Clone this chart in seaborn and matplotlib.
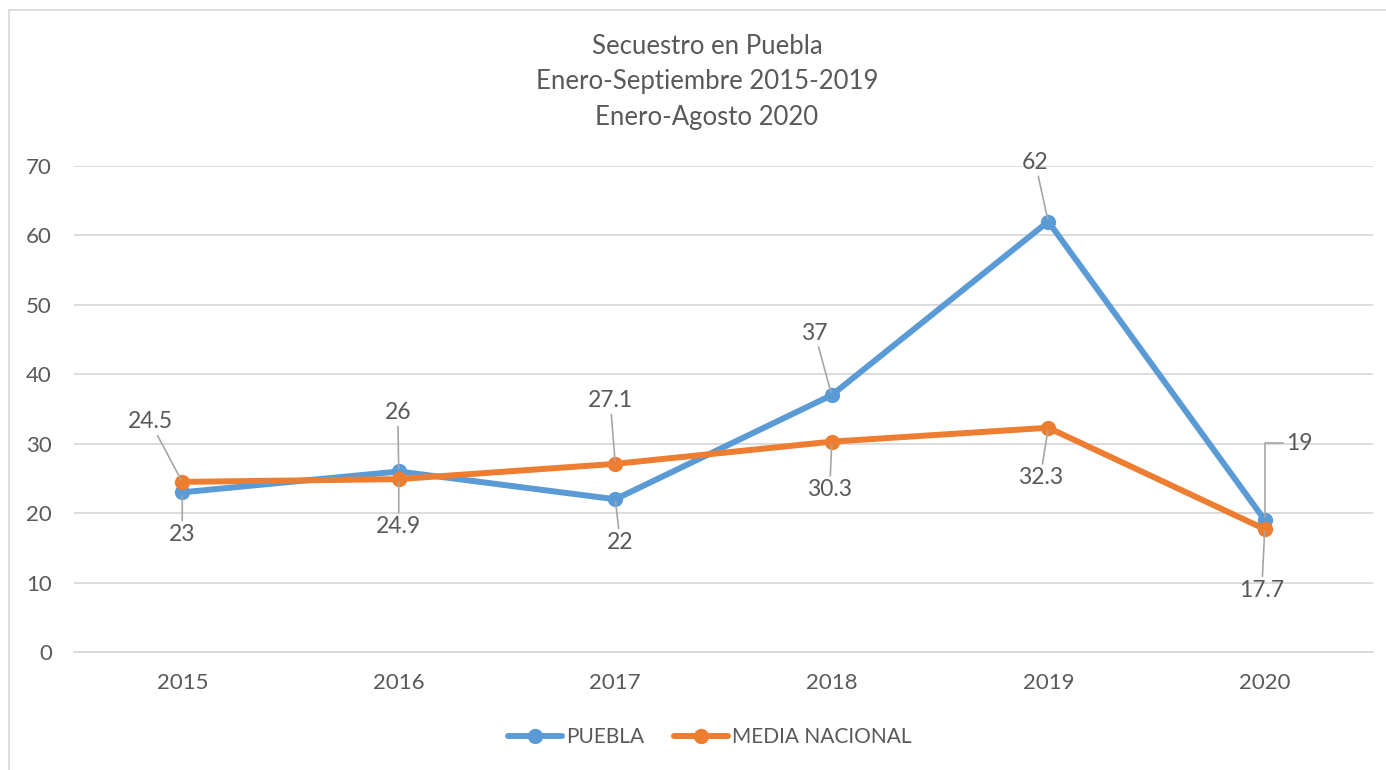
import matplotlib
matplotlib.use("Agg")
import matplotlib.pyplot as plt
import pandas as pd
import seaborn as sns
from matplotlib.patches import Rectangle

years = ["2015", "2016", "2017", "2018", "2019", "2020"]
puebla = [23, 26, 22, 37, 62, 19]
media_nacional = [24.5, 24.9, 27.1, 30.3, 32.3, 17.7]
series_names = ["PUEBLA", "MEDIA NACIONAL"]
title_lines = ["Secuestro en Puebla", "Enero-Septiembre 2015-2019", "Enero-Agosto 2020"]

# label offsets in pixels (dx, dy) relative to each point
puebla_offsets = [(0, -42), (-1, 59), (5, -43), (-17, 62), (-13, 59), (35, 77)]
media_offsets = [(-32, 60), (0, -47), (-5, 63), (-2, -48), (-8, -50), (-3, -61)]

BLUE = "#5B9BD5"
ORANGE = "#ED7D31"
TEXT = "#595959"
GRID = "#D9D9D9"

df = pd.DataFrame({"year": years * 2,
                   "value": puebla + media_nacional,
                   "serie": [series_names[0]] * 6 + [series_names[1]] * 6})

sns.set_style("white")
plt.rcParams["font.family"] = ["Lato", "DejaVu Sans"]

fig = plt.figure(figsize=(13.86, 7.7), dpi=100)
ax = fig.add_axes([74 / 1386, 1 - 652 / 770, (1373 - 74) / 1386, (652 - 166) / 770])

sns.lineplot(data=df, x="year", y="value", hue="serie", palette=[BLUE, ORANGE],
             marker="o", markersize=11, markeredgewidth=0, linewidth=4.3,
             sort=False, legend=False, ax=ax)

ax.set_xlim(-0.5, 5.5)
ax.set_ylim(0, 70)
ax.set_yticks(range(0, 71, 10))
ax.yaxis.grid(True, color=GRID, linewidth=1.3)
ax.set_axisbelow(True)
for s in ["top", "right", "left"]:
    ax.spines[s].set_visible(False)
ax.spines["bottom"].set_color(GRID)
ax.spines["bottom"].set_linewidth(1.3)
ax.tick_params(axis="both", length=0, labelsize=16, labelcolor=TEXT)
ax.tick_params(axis="y", pad=16)
ax.tick_params(axis="x", pad=15)
ax.set_xlabel("")
ax.set_ylabel("")

lead = dict(arrowstyle="-", color="#A6A6A6", lw=1.2, shrinkA=0, shrinkB=2)
for i, v in enumerate(puebla):
    dx, dy = puebla_offsets[i]
    props = dict(lead)
    if i == 5:
        props["connectionstyle"] = "angle,angleA=0,angleB=90,rad=0"
    ax.annotate(f"{v:g}", xy=(i, v), xytext=(dx, dy), textcoords="offset pixels",
                ha="center", va="center", fontsize=16.5, color=TEXT,
                arrowprops=props)
for i, v in enumerate(media_nacional):
    dx, dy = media_offsets[i]
    ax.annotate(f"{v:g}", xy=(i, v), xytext=(dx, dy), textcoords="offset pixels",
                ha="center", va="center", fontsize=16.5, color=TEXT,
                arrowprops=dict(lead))

for k, line in enumerate(title_lines):
    fig.text(707 / 1386, 1 - (47 + 35 * k) / 770, line, ha="center", va="center",
             fontsize=18.5, color=TEXT)

handles = [plt.Line2D([], [], color=BLUE, lw=4.3, marker="o", markersize=11, markeredgewidth=0),
           plt.Line2D([], [], color=ORANGE, lw=4.3, marker="o", markersize=11, markeredgewidth=0)]
leg = fig.legend(handles, series_names, loc="center", bbox_to_anchor=(710 / 1386, 1 - 737 / 770),
                 ncol=2, frameon=False, fontsize=15, handlelength=2.6, handletextpad=0.2,
                 columnspacing=1.4)
for t in leg.get_texts():
    t.set_color(TEXT)

fig.patches.append(Rectangle((9 / 1386, -0.01), 1.02, 1 - 10 / 770 + 0.01,
                             transform=fig.transFigure, fill=False,
                             edgecolor=GRID, linewidth=1.3))

fig.savefig("out.png", dpi=100)
